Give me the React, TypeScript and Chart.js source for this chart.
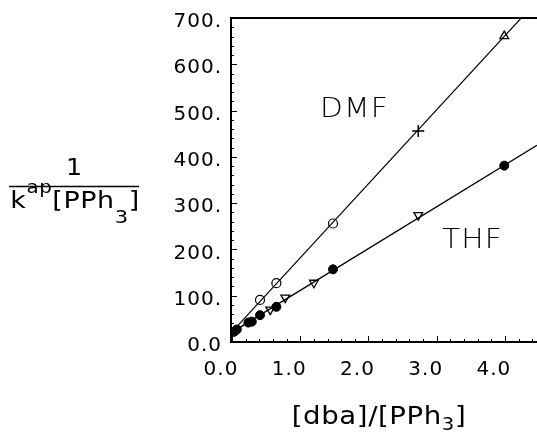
import React, { useEffect, useRef } from 'react';
import { Chart, registerables } from 'chart.js';

Chart.register(...registerables);

// ---- Data ----
const dmfCircleX = [0.41, 0.65, 1.48];
const dmfCircleY = [91, 127, 256];
const dmfCrossX = [2.73];
const dmfCrossY = [456];
const dmfTriX = [3.99];
const dmfTriY = [661];
const dmfFitX = [0.02, 4.47];
const dmfFitY = [25, 737];

const thfDotX = [0.03, 0.07, 0.24, 0.29, 0.41, 0.65, 1.48, 3.99];
const thfDotY = [22, 27, 42, 44, 58, 76, 157, 381];
const thfDownTriX = [0.56, 0.78, 1.2, 2.73];
const thfDownTriY = [70, 96, 128, 274];
const thfFitX = [0.02, 4.47];
const thfFitY = [23, 425];

const xTickValues = [0, 1, 2, 3, 4];
const yTickValues = [0, 100, 200, 300, 400, 500, 600, 700];

const toPts = (xs: number[], ys: number[]) => xs.map((x, i) => ({ x, y: ys[i] }));

const FONT = '"DejaVu Sans", sans-serif';

type Seg = { t: string; size: number; dy: number };

function drawSegs(
  ctx: CanvasRenderingContext2D,
  segs: Seg[],
  cx: number,
  baseY: number,
  spacing: string,
  sx: number
) {
  ctx.save();
  (ctx as any).letterSpacing = spacing;
  ctx.fillStyle = '#000';
  ctx.textBaseline = 'alphabetic';
  ctx.textAlign = 'left';
  let total = 0;
  const widths = segs.map((s) => {
    ctx.font = `${s.size}px ${FONT}`;
    const w = ctx.measureText(s.t).width;
    total += w;
    return w;
  });
  ctx.translate(cx - (total * sx) / 2, baseY);
  ctx.scale(sx, 1);
  let x = 0;
  segs.forEach((s, i) => {
    ctx.font = `${s.size}px ${FONT}`;
    ctx.fillText(s.t, x, s.dy);
    x += widths[i];
  });
  ctx.restore();
}

function drawLabel(ctx: CanvasRenderingContext2D, text: string, x: number, y: number) {
  ctx.save();
  ctx.fillStyle = '#000';
  (ctx as any).letterSpacing = '1px';
  ctx.font = `300 27px ${FONT}`;
  ctx.textBaseline = 'alphabetic';
  ctx.textAlign = 'left';
  ctx.translate(x, y);
  ctx.scale(1.1, 1);
  ctx.fillText(text, 0, 0);
  ctx.restore();
}

const decorPlugin = {
  id: 'decor',
  beforeDraw(chart: any) {
    (chart.ctx as any).letterSpacing = '1px';
  },
  afterDatasetsDraw(chart: any) {
    const { ctx, chartArea, scales } = chart;
    const { left, right, top, bottom } = chartArea;
    const xs = scales.x;
    const ys = scales.y;
    ctx.save();
    ctx.strokeStyle = '#000';
    ctx.lineWidth = 1;
    ctx.beginPath();
    for (let i = 0; i <= 40; i++) {
      const v = i * 0.2;
      const px = Math.round(xs.getPixelForValue(v)) + 0.5;
      if (px > right) break;
      const len = i % 5 === 0 ? 6 : 3;
      ctx.moveTo(px, bottom);
      ctx.lineTo(px, bottom - len);
    }
    for (let i = 0; i <= 35; i++) {
      const v = i * 20;
      const py = Math.round(ys.getPixelForValue(v)) + 0.5;
      const len = i % 5 === 0 ? 6 : 3;
      ctx.moveTo(left, py);
      ctx.lineTo(left + len, py);
    }
    ctx.stroke();
    ctx.lineWidth = 2;
    ctx.beginPath();
    ctx.moveTo(left - 1, top);
    ctx.lineTo(right, top);
    ctx.stroke();
    ctx.restore();
  },
  afterDraw(chart: any) {
    const ctx: CanvasRenderingContext2D = chart.ctx;
    (ctx as any).letterSpacing = '0px';
    drawLabel(ctx, 'DMF', 320, 117);
    drawLabel(ctx, 'THF', 442, 248);

    // y-axis title as a fraction
    drawSegs(ctx, [{ t: '1', size: 23, dy: 0 }], 74, 175, '0px', 1.1);
    ctx.save();
    ctx.strokeStyle = '#000';
    ctx.lineWidth = 1.5;
    ctx.beginPath();
    ctx.moveTo(9, 186.5);
    ctx.lineTo(139, 186.5);
    ctx.stroke();
    ctx.restore();
    drawSegs(
      ctx,
      [
        { t: 'k', size: 23, dy: 0 },
        { t: 'ap', size: 17, dy: -15 },
        { t: '[PPh', size: 23, dy: 0 },
        { t: '3', size: 18, dy: 15 },
        { t: ']', size: 23, dy: 0 },
      ],
      75,
      208,
      '0.5px',
      1.17
    );

    // x-axis title
    drawSegs(
      ctx,
      [
        { t: '[dba]/[PPh', size: 24, dy: 0 },
        { t: '3', size: 17, dy: 6 },
        { t: ']', size: 24, dy: 0 },
      ],
      379,
      424,
      '0.5px',
      1.15
    );
  },
};

export default function App() {
  const ref = useRef<HTMLCanvasElement | null>(null);
  useEffect(() => {
    if (!ref.current) return;
    const tickFont = { family: FONT, size: 20 };
    const chart = new Chart(ref.current, {
      type: 'scatter',
      data: {
        datasets: [
          {
            label: 'DMF fit',
            data: toPts(dmfFitX, dmfFitY),
            showLine: true,
            pointRadius: 0,
            borderColor: '#000',
            borderWidth: 1.2,
          },
          {
            label: 'THF fit',
            data: toPts(thfFitX, thfFitY),
            showLine: true,
            pointRadius: 0,
            borderColor: '#000',
            borderWidth: 1.4,
          },
          {
            label: 'DMF circles',
            data: toPts(dmfCircleX, dmfCircleY),
            pointStyle: 'circle',
            pointRadius: 4.5,
            backgroundColor: '#fff',
            borderColor: '#000',
            borderWidth: 1.2,
          },
          {
            label: 'DMF cross',
            data: toPts(dmfCrossX, dmfCrossY),
            pointStyle: 'cross',
            pointRadius: 6,
            backgroundColor: '#000',
            borderColor: '#000',
            borderWidth: 1.5,
          },
          {
            label: 'DMF triangle',
            data: toPts(dmfTriX, dmfTriY),
            pointStyle: 'triangle',
            pointRadius: 5,
            backgroundColor: '#fff',
            borderColor: '#000',
            borderWidth: 1.3,
          },
          {
            label: 'THF dots',
            data: toPts(thfDotX, thfDotY),
            pointStyle: 'circle',
            pointRadius: 4.5,
            backgroundColor: '#000',
            borderColor: '#000',
            borderWidth: 1,
          },
          {
            label: 'THF triangles',
            data: toPts(thfDownTriX, thfDownTriY),
            pointStyle: 'triangle',
            pointRotation: 180,
            pointRadius: 5,
            backgroundColor: '#fff',
            borderColor: '#000',
            borderWidth: 1.3,
          },
        ],
      },
      options: {
        animation: false,
        responsive: false,
        layout: { autoPadding: false, padding: { top: 18, right: 0, left: 0, bottom: 0 } },
        plugins: { legend: { display: false }, tooltip: { enabled: false } },
        scales: {
          x: {
            type: 'linear',
            min: -0.015,
            max: 4.47,
            afterBuildTicks: (s: any) => {
              s.ticks = xTickValues.map((v) => ({ value: v }));
            },
            afterFit: (s: any) => {
              s.height = 91;
              s.paddingLeft = 0;
              s.paddingRight = 0;
            },
            ticks: {
              font: tickFont,
              color: '#000',
              padding: 16,
              labelOffset: -11,
              autoSkip: false,
              maxRotation: 0,
              callback: (v: any) => Number(v).toFixed(1),
            },
            grid: { drawOnChartArea: false, drawTicks: false },
            border: { display: true, color: '#000', width: 2 },
          },
          y: {
            type: 'linear',
            min: 0,
            max: 700,
            afterBuildTicks: (s: any) => {
              s.ticks = yTickValues.map((v) => ({ value: v }));
            },
            afterFit: (s: any) => {
              s.width = 231;
              s.paddingTop = 0;
              s.paddingBottom = 0;
            },
            ticks: {
              font: tickFont,
              color: '#000',
              padding: 9,
              labelOffset: 4,
              autoSkip: false,
              callback: (v: any) => (Number(v) === 0 ? '0.0' : `${v}.`),
            },
            grid: { drawOnChartArea: false, drawTicks: false },
            border: { display: true, color: '#000', width: 2 },
          },
        },
      },
      plugins: [decorPlugin],
    });
    return () => chart.destroy();
  }, []);

  return (
    <div style={{ position: 'fixed', left: 0, top: 0, width: 537, height: 433, background: '#fff' }}>
      <canvas ref={ref} width={537} height={433} style={{ display: 'block' }} />
    </div>
  );
}
